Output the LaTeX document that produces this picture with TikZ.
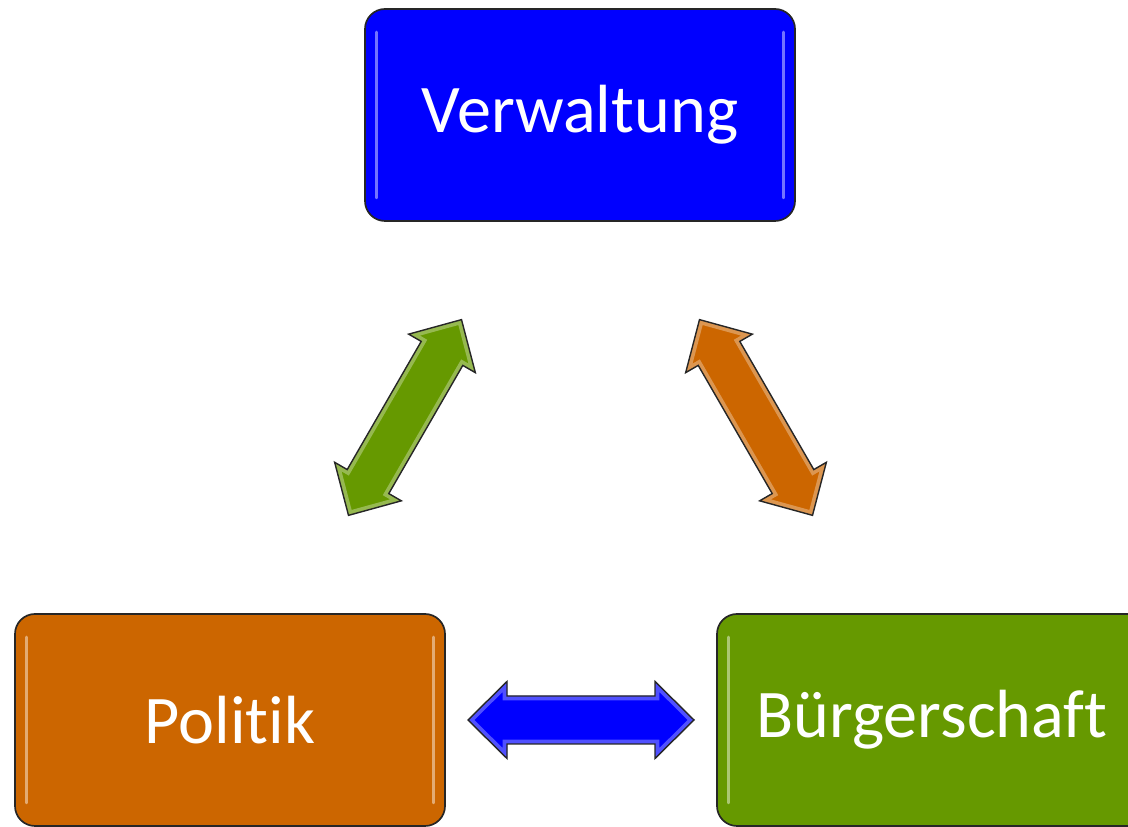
\documentclass[tikz,border=0pt]{standalone}
\usepackage{fontspec}
\setmainfont{Carlito}[Ligatures=NoCommon]
\usepackage{xcolor}
\usetikzlibrary{positioning,calc}

\definecolor{verwBlau}{HTML}{0000FF}
\definecolor{polOrange}{HTML}{CC6600}
\definecolor{buergGruen}{HTML}{669900}

% Doppelpfeil als pic, Farbe als Argument
\tikzset{
    pics/doppelpfeil/.style={code={
        \path[save path=\pfeilpfad] (-2.825,0) -- (-1.85,0.9625) -- (-1.85,0.6) -- (1.85,0.6)
            -- (1.85,0.9625) -- (2.825,0) -- (1.85,-0.9625) -- (1.85,-0.6)
            -- (-1.85,-0.6) -- (-1.85,-0.9625) -- cycle;
        \fill[#1, use path=\pfeilpfad];
        \begin{scope}
            \clip[use path=\pfeilpfad];
            \draw[#1!55!white, line width=0.22cm, opacity=0.7, use path=\pfeilpfad];
        \end{scope}
        \draw[black!85, line width=1pt, line join=miter, use path=\pfeilpfad];
    }}
}

\begin{document}
\begin{tikzpicture}[
        feld/.style={draw=black!85, line width=1.2pt, rounded corners=0.5cm,
                     minimum width=10.75cm, minimum height=5.3cm,
                     text=white, font=\fontsize{48.5}{58}\selectfont},
        glanz/.style={white, opacity=0.45, line width=2pt, line cap=round}
    ]
    \useasboundingbox (0,0) rectangle (28.2,20.675);
    \clip (0,0) rectangle (28.2,20.675);

    % ---- Felder ----
    \node[feld, fill=verwBlau] (verwaltung) at (14.5,17.8) {Verwaltung};
    \node[feld, fill=polOrange] (politik) at (5.75,2.675) {Politik};
    \node[feld, fill=buergGruen] (buerger) at (23.3,2.675) {Bürgerschaft};

    % Glanzlinien an den Seiten
    \foreach \feldname in {verwaltung,politik,buerger}{
        \draw[glanz] ([xshift=0.3cm,yshift=-0.6cm]\feldname.north west) -- ([xshift=0.3cm,yshift=0.6cm]\feldname.south west);
        \draw[glanz] ([xshift=-0.3cm,yshift=-0.6cm]\feldname.north east) -- ([xshift=-0.3cm,yshift=0.6cm]\feldname.south east);
    }

    % ---- Doppelpfeile ----
    \pic[rotate=60] (pfeilLinks) at ($(politik)!0.5!(verwaltung)$) {doppelpfeil=buergGruen};
    \pic[rotate=-60] (pfeilRechts) at ($(verwaltung)!0.5!(buerger)$) {doppelpfeil=polOrange};
    \pic (pfeilUnten) at ($(politik)!0.5!(buerger)$) {doppelpfeil=verwBlau};

\end{tikzpicture}
\end{document}
